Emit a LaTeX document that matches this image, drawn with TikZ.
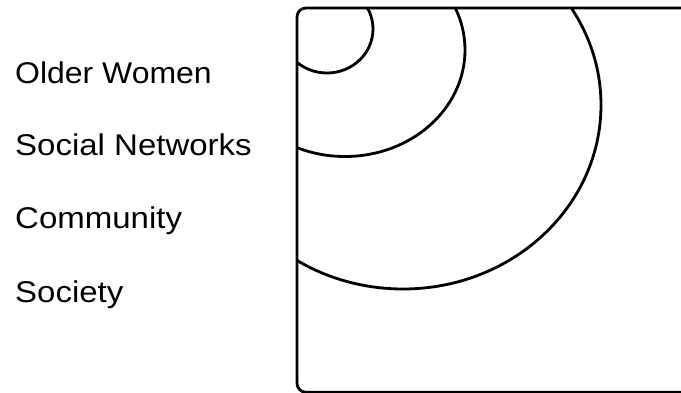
\documentclass[tikz,border=0pt]{standalone}
\usepackage{fontspec}
\setmainfont{Liberation Sans}
\begin{document}
\begin{tikzpicture}[x=1pt,y=-1pt,
  lbl/.style={anchor=base west,inner sep=0pt,font=\fontsize{30}{36}\selectfont},
  ring/.style={line width=2.8pt,line join=round,line cap=round}]
\useasboundingbox (0,0) rectangle (681,392);
\clip (0,0) rectangle (681,392);
% labels
\node[lbl] (older) at (15,83) {\scalebox{1.065}[1]{Older Women}};
\node[lbl] (social) at (15,155) {\scalebox{1.1}[1]{Social Networks}};
\node[lbl] (community) at (15,228) {\scalebox{1.1}[1]{Community}};
\node[lbl] (society) at (15,302) {\scalebox{1.1}[1]{Society}};
% rings, cut off by the frame
\begin{scope}
  \clip (297,8) rectangle (720,400);
  \draw[ring] (327,29) ellipse [x radius=46pt, y radius=44pt];
  \draw[ring] (345,50) ellipse [x radius=120pt, y radius=106.5pt];
  \draw[ring] (403,105) ellipse [x radius=198pt, y radius=184pt];
\end{scope}
% frame (runs off the right and bottom edges)
\draw[ring,rounded corners=9pt] (297,8) rectangle (720,392.3);
\end{tikzpicture}
\end{document}
